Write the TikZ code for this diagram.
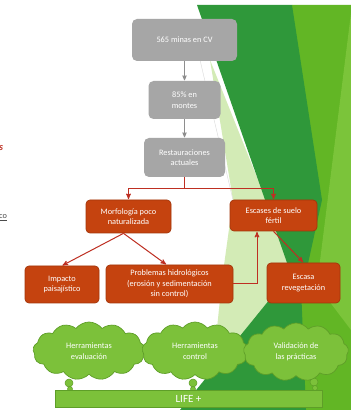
\documentclass[tikz,border=0pt]{standalone}
\usepackage{fontspec}
\setmainfont{Carlito}
\usetikzlibrary{arrows,positioning,shapes.symbols}

\definecolor{boxgray}{HTML}{A6A6A6}
\definecolor{linegray}{HTML}{8E8E8E}
\definecolor{rust}{HTML}{C5430F}
\definecolor{rustdark}{HTML}{A3360B}
\definecolor{redline}{HTML}{BE2F22}
\definecolor{leaf}{HTML}{7CC13A}
\definecolor{leafdark}{HTML}{5E9E28}
\definecolor{forest}{HTML}{2F983A}
\definecolor{lime}{HTML}{62B625}
\definecolor{limelight}{HTML}{7BC43A}
\definecolor{mint}{HTML}{D3EBB6}

\begin{document}
\begin{tikzpicture}[x=1pt,y=1pt,>=stealth',shorten >=0.5pt,node distance=60pt,
                    font=\fontsize{8.3}{10.5}\selectfont]
	\tikzstyle{gray box}=[rectangle,rounded corners=5pt,fill=boxgray,text=white,
	                      align=center,inner sep=2pt]
	\tikzstyle{red box}=[rectangle,rounded corners=4pt,fill=rust,draw=rustdark,
	                     line width=0.7pt,text=white,align=center,inner sep=2pt]
	\tikzstyle{idea}=[cloud,cloud puffs=13,cloud puff arc=105,cloud ignores aspect,
	                  fill=leaf,draw=leafdark,line width=0.7pt,text=white,
	                  align=center,inner sep=1pt]
	\tikzstyle{bubble}=[circle,fill=leaf,draw=leafdark,line width=0.5pt,inner sep=0pt]
	\tikzstyle{gray link}=[->,linegray,line width=0.8pt]
	\tikzstyle{red link}=[->,redline,line width=1pt]

	\useasboundingbox (0,0) rectangle (351,410);
	\fill[white] (0,0) rectangle (351,410);

	% green backdrop on the right
	\fill[lime] (292,405) -- (351,405) -- (351,0) -- (280,0) -- (300,130) -- cycle;
	\fill[limelight] (351,397) -- (317,125) -- (351,80) -- cycle;
	\fill[mint] (210,350) -- (262,220) -- (304,120) -- (262,72) -- (216,72)
	            -- (222,130) -- (233,210) -- cycle;
	\fill[forest] (197,405) -- (292,405) -- (322,210) -- (300,110) -- cycle;
	\fill[forest] (300,148) -- (306,0) -- (180,0) -- cycle;
	\draw[black!15,line width=0.4pt] (200,350) -- (233,210);

	% leftovers of the text column
	\node[text=redline,font=\fontsize{10}{12}\bfseries\itshape\selectfont,
	      anchor=west,inner sep=0pt] (cut1) at (-1,262) {s};
	\node[text=black!70,anchor=west,inner sep=0pt] (cut2) at (-1,192) {\underline{co}};

	% gray chain
	\node[gray box,minimum width=105pt,minimum height=42pt] (top)  at (184.5,370) {565 minas en CV};
	\node[gray box,minimum width=72pt,minimum height=38pt]  (mont) [below of=top] {85\% en\\montes};
	\node[gray box,minimum width=81pt,minimum height=39pt]  (rest) [below of=mont,node distance=57.5pt] {Restauraciones\\actuales};

	% problems
	\node[red box,minimum width=85pt,minimum height=33pt]  (morf)  at (128.5,193.5) {Morfología poco\\naturalizada};
	\node[red box,minimum width=87pt,minimum height=31pt]  (suelo) at (273.5,194.5) {Escases de suelo\\fértil};
	\node[red box,minimum width=74pt,minimum height=37pt]  (imp)   at (62,125.5)    {Impacto\\paisajístico};
	\node[red box,minimum width=127pt,minimum height=38pt] (hidro) at (169.5,126)   {Problemas hidrológicos\\(erosión y sedimentación\\sin control)};
	\node[red box,minimum width=73pt,minimum height=40pt]  (reveg) at (303.5,127)   {Escasa\\revegetación};

	% tools
	\node[bubble,minimum size=8pt] (t1a) at (69,27) {};
	\node[bubble,minimum size=5pt] (t1b) at (70,21) {};
	\node[bubble,minimum size=8pt] (t2a) at (193,27) {};
	\node[bubble,minimum size=5pt] (t2b) at (193,21) {};
	\node[bubble,minimum size=8pt] (t3a) at (314,28) {};
	\node[bubble,minimum size=5pt] (t3b) at (315,22) {};
	\node[idea,minimum width=112pt,minimum height=58pt] (eval) at (89,59)  {Herramientas\\evaluación};
	\node[idea,minimum width=106pt,minimum height=58pt] (ctrl) at (195,59) {Herramientas\\control};
	\node[idea,minimum width=105pt,minimum height=58pt] (valid) at (296,58) {Validación de\\las prácticas};

	\node[rectangle,fill=leaf,draw=leafdark,line width=0.7pt,text=white,
	      minimum width=267pt,minimum height=17pt,inner sep=0pt,
	      font=\fontsize{11}{12}\selectfont] (life) at (188.5,11) {LIFE +};

	\path (top)  edge [gray link] (mont)
	      (mont) edge [gray link] (rest);

	\draw[redline,line width=1pt] (rest.south) -- ++(0,-11) coordinate (fork);
	\draw[red link] (fork) -| (morf.north);
	\draw[red link] (fork) -| (suelo.north);
	\draw[red link] ([xshift=-5pt]morf.south) -- (imp.north);
	\draw[red link] ([xshift=-5pt]morf.south) -- ([xshift=-3pt]hidro.north);
	\draw[red link] (hidro.east) -| ([xshift=-16.5pt]suelo.south);
	\draw[red link] (suelo.south) -- (reveg.north);
\end{tikzpicture}
\end{document}
